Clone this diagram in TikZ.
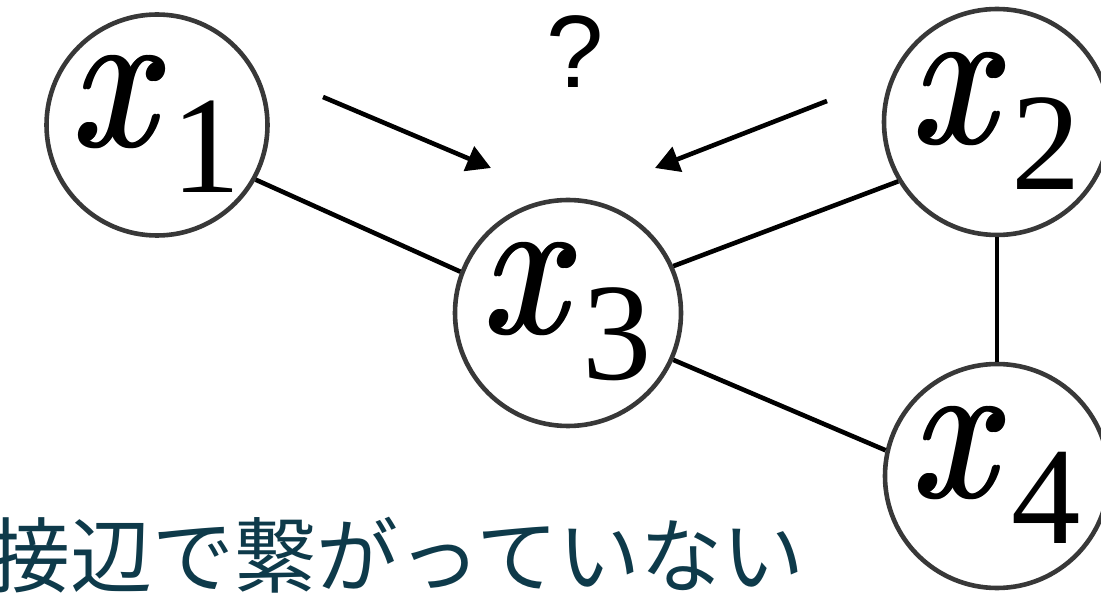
\documentclass[tikz,border=0pt]{standalone}
\usepackage{fontspec}
\usepackage{amsmath}
\usepackage{graphicx}
\usetikzlibrary{arrows.meta}
\newfontfamily\digitfont{Liberation Serif}
\newfontfamily\qfont{Liberation Sans}
\newfontfamily\jpfont{Noto Sans CJK JP}
\definecolor{circgray}{HTML}{383838}
\definecolor{jpteal}{HTML}{0E3A4A}
\newcommand\fatx{\hbox{\makebox[0pt][l]{$x$}\makebox[0pt][l]{\kern0.09pt\raisebox{0.04pt}{$x$}}\makebox[0pt][l]{\kern0.18pt$x$}\kern0.27pt\raisebox{0.04pt}{$x$}}}
\newcommand\xlab[1]{\scalebox{20.4}{\hbox{\scalebox{0.82}[1]{\fatx}\kern-0.08pt\raisebox{-2.25pt}{\fontsize{6.8}{7}\selectfont\digitfont #1}}}}
\tikzset{
  var/.style={circle, draw=circgray, line width=4.6pt, inner sep=0pt, fill=white},
  edge/.style={line width=4.6pt, black},
  arr/.style={line width=4.6pt, black, -{Triangle[length=24pt,width=26pt]}}
}
\begin{document}
\begin{tikzpicture}[x=1pt,y=-1pt]
\useasboundingbox (0,0) rectangle (1101,593);
\node[var, minimum size=221pt] (x1) at (157,125) {\xlab{1}};
\node[var, minimum size=226pt] (x3) at (568,313) {\xlab{3}};
\node[var, minimum size=226pt] (x2) at (997,122) {\xlab{2}};
\node[var, minimum size=224pt] (x4) at (997,476) {\xlab{4}};
\draw[edge] (x1.-29) -- (x3.159);
\draw[edge] (x3.24) -- (x2.211);
\draw[edge] (x3.-24) -- (x4.167);
\draw[edge] (x2) -- (x4);
\coordinate (a1s) at (323,97);
\coordinate (a1e) at (491,168);
\coordinate (a2s) at (827,101);
\coordinate (a2e) at (655,168);
\draw[arr] (a1s) -- (a1e);
\draw[arr] (a2s) -- (a2e);
\node[inner sep=0pt] (q) at (575,52) {\qfont\fontsize{103}{103}\selectfont ?};
\node[inner sep=0pt, anchor=west, text=jpteal] (jp) at (-12,555) {\jpfont\fontsize{82}{82}\selectfont 接辺で繋がっていない};
\end{tikzpicture}
\end{document}
